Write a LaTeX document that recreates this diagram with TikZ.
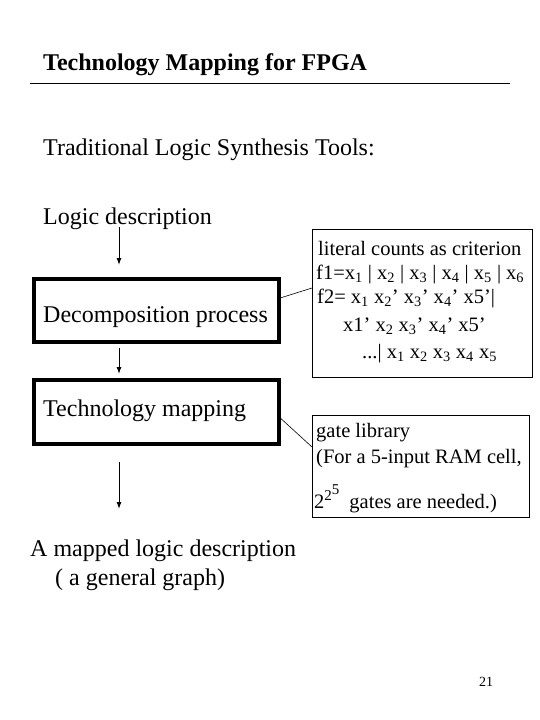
\documentclass[tikz,border=0pt]{standalone}
\usepackage{fontspec}
\setmainfont{Liberation Serif}
\usetikzlibrary{arrows.meta}
\newcommand{\sbs}[1]{\textsubscript{#1}}
\begin{document}
\begin{tikzpicture}[x=1pt,y=-1pt,
  txt/.style={anchor=base west,inner sep=0pt,font=\fontsize{24}{28}\selectfont},
  smalltxt/.style={anchor=base west,inner sep=0pt,font=\fontsize{20.5}{25}\selectfont},
  procbox/.style={draw,line width=4pt},
  thinbox/.style={draw,line width=0.8pt},
  arr/.style={-{Latex[length=7pt,width=5pt]},line width=1pt},
  conn/.style={line width=0.6pt}]
\useasboundingbox (0,0) rectangle (540,720);
\node[anchor=base west,inner sep=0pt,font=\fontsize{24}{28}\selectfont\bfseries] (title) at (43,70) {Technology Mapping for FPGA};
\coordinate (hl1) at (30,83);
\coordinate (hl2) at (510,83);
\draw[line width=0.8pt] (hl1) -- (hl2);
\node[txt] (trad) at (43,155) {Traditional Logic Synthesis Tools:};
\node[txt] (logic) at (43,224) {Logic description};
\node[procbox,minimum width=245pt,minimum height=63pt,anchor=north west] (dec) at (32,277) {};
\node[txt] (dectxt) at (43,322) {Decomposition process};
\node[procbox,minimum width=245pt,minimum height=64pt,anchor=north west] (tm) at (32,378) {};
\node[txt] (tmtxt) at (43,416) {Technology mapping};
\coordinate (a1s) at (119,227);
\coordinate (a1e) at (119,265);
\coordinate (a2s) at (119,348);
\coordinate (a2e) at (119,374);
\coordinate (a3s) at (119,462);
\coordinate (a3e) at (119,509);
\draw[arr] (a1s) -- (a1e);
\draw[arr] (a2s) -- (a2e);
\draw[arr] (a3s) -- (a3e);
\node[txt] (mapped) at (30,556) {A mapped logic description};
\node[txt] (graph) at (55,585) {( a general graph)};
% right box 1
\node[thinbox,minimum width=220pt,minimum height=148pt,anchor=north west] (b1) at (312,229) {};
\node[smalltxt] (l1) at (318,255) {literal counts as criterion};
\node[smalltxt] (l2) at (316,279) {f1=x\sbs{1} | x\sbs{2} | x\sbs{3} | x\sbs{4} | x\sbs{5} | x\sbs{6}};
\node[smalltxt] (l3) at (317,303) {f2= x\sbs{1} x\sbs{2}’ x\sbs{3}’ x\sbs{4}’ x5’|};
\node[smalltxt] (l4) at (343,331) {x1’ x\sbs{2} x\sbs{3}’ x\sbs{4}’ x5’};
\node[smalltxt] (l5) at (362,358) {...| x\sbs{1} x\sbs{2} x\sbs{3} x\sbs{4} x\sbs{5}};
% right box 2
\node[thinbox,minimum width=217pt,minimum height=102pt,anchor=north west] (b2) at (312,415) {};
\node[smalltxt] (g1) at (316,437) {gate library};
\node[smalltxt] (g2) at (316,463) {(For a 5-input RAM cell,};
\node[smalltxt] (g3) at (314,508) {2\raisebox{8pt}{\fontsize{15}{17}\selectfont 2\raisebox{6pt}{5}}\hspace{10pt}gates are needed.)};
% connectors
\coordinate (c1a) at (277,299);
\coordinate (c2a) at (277,415);
\draw[conn] (c1a) -- (b1.west |- 0,288);
\draw[conn] (c2a) -- (b2.west |- 0,447);
\node[anchor=base west,inner sep=0pt,font=\fontsize{14}{16}\selectfont] (pg) at (479,686) {21};
\end{tikzpicture}
\end{document}
